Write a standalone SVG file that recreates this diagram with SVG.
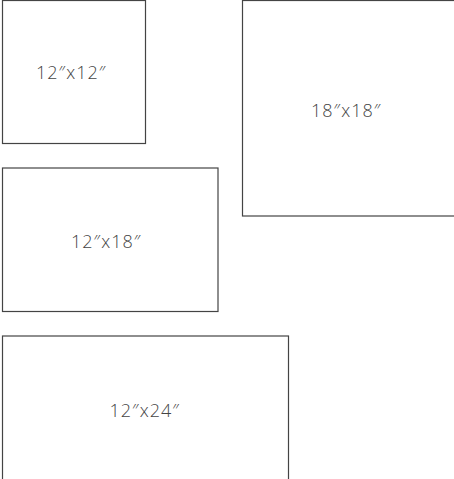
<svg xmlns="http://www.w3.org/2000/svg" width="454" height="479" viewBox="0 0 454 479">
<style>
.frame{fill:#fff;stroke:#444;stroke-width:1.2}
.lbl{font-family:"Open Sans","Noto Sans",sans-serif;font-weight:300;font-size:18px;fill:#444;letter-spacing:1px}
</style>
<rect width="454" height="479" fill="#fff"/>
<g id="f12x12"><rect class="frame" x="2.5" y="0.5" width="143" height="143"/><text class="lbl" x="36" y="79.3">12″x12″</text></g>
<g id="f18x18"><rect class="frame" x="242.5" y="0.5" width="216" height="215.5"/><text class="lbl" x="311" y="116.7">18″x18″</text></g>
<g id="f12x18"><rect class="frame" x="2.5" y="168" width="215.5" height="143.5"/><text class="lbl" x="71" y="248.3">12″x18″</text></g>
<g id="f12x24"><rect class="frame" x="2.5" y="336" width="286" height="150"/><text class="lbl" x="109.5" y="417.3">12″x24″</text></g>
<g id="connectors"/>
</svg>
